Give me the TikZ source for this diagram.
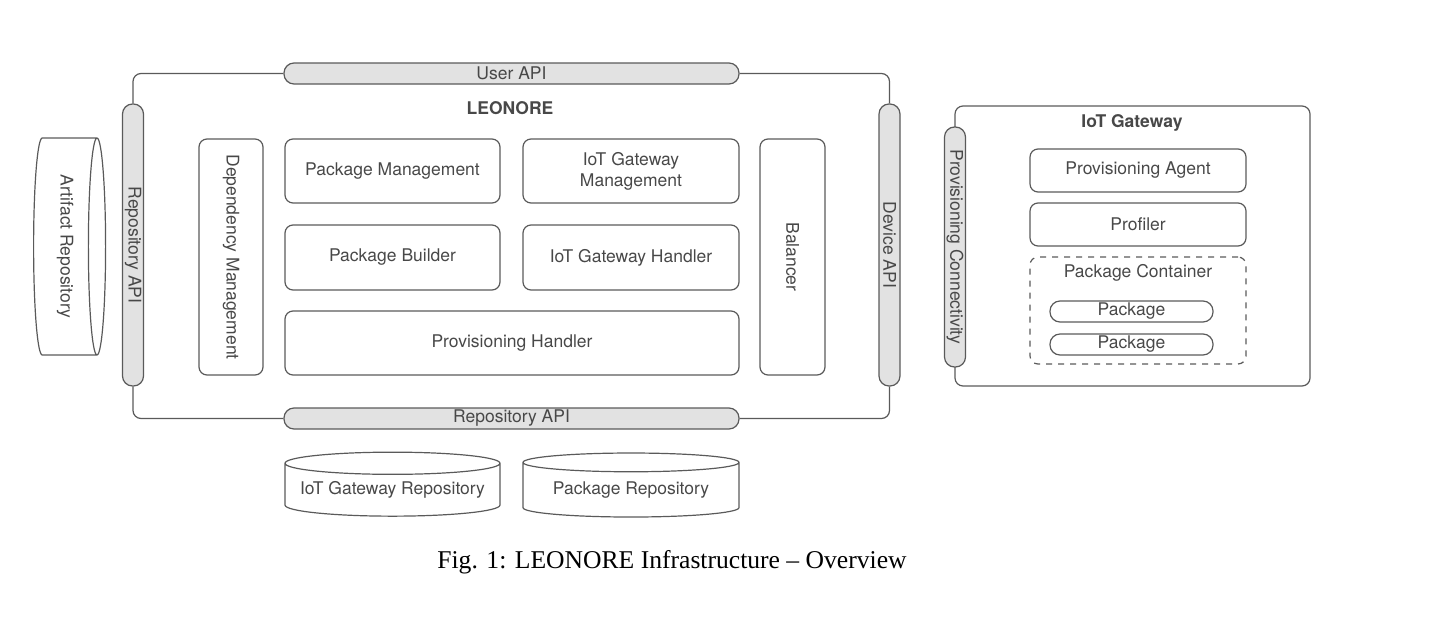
\documentclass[tikz,border=0pt]{standalone}
\usepackage{fontspec}
\setmainfont{Liberation Serif}
\newfontfamily\helv{TeX Gyre Heros}
\usepackage{tikz}
\usetikzlibrary{shapes.geometric}

\definecolor{linec}{HTML}{5A5A5A}
\definecolor{barc}{HTML}{E2E2E2}
\definecolor{txtc}{HTML}{484848}

\tikzset{
  comp/.style={draw=linec, line width=0.6pt, rounded corners=4pt, inner sep=0pt,
    text=txtc, align=center, font=\helv\fontsize{8.75}{10.5}\selectfont},
  apibar/.style={comp, fill=barc, rounded corners=5pt, minimum height=10.5pt},
  repo/.style={comp, cylinder, rounded corners=0pt},
  frame/.style={draw=linec, line width=0.6pt, rounded corners=4pt},
  heading/.style={text=txtc, font=\helv\bfseries\fontsize{8.75}{10.5}\selectfont}
}

\begin{document}
\begin{tikzpicture}[x=0.5pt, y=-0.5pt]
  \useasboundingbox (0,0) rectangle (1440,616);

  % LEONORE
  \node[apibar, minimum width=227.5pt] (userapi) at (511.5,73.5) {User API};
  \node[apibar, minimum width=227.5pt] (repoapib) at (511.5,418.5) {Repository API};
  \node[apibar, minimum width=141pt, rotate=-90] (repoapil) at (133,245) {Repository API};
  \node[apibar, minimum width=141pt, rotate=-90] (deviceapi) at (889.5,245) {Device API};
  \draw[frame] (userapi.west) -| (repoapil.west);
  \draw[frame] (userapi.east) -| (deviceapi.west);
  \draw[frame] (repoapib.west) -| (repoapil.east);
  \draw[frame] (repoapib.east) -| (deviceapi.east);
  \node[heading] (leonore) at (510,108) {LEONORE};

  \node[comp, minimum width=118pt, minimum height=32pt, rotate=-90] (depmgmt) at (231,257) {Dependency Management};
  \node[comp, minimum width=107.5pt, minimum height=32pt] (pkgmgmt) at (392.5,171) {Package Management};
  \node[comp, minimum width=108pt, minimum height=32pt] (gwmgmt) at (631,171) {IoT Gateway\\Management};
  \node[comp, minimum width=107.5pt, minimum height=32.5pt] (pkgbuilder) at (392.5,257.5) {Package Builder};
  \node[comp, minimum width=108pt, minimum height=32.5pt] (gwhandler) at (631,257.5) {IoT Gateway Handler};
  \node[comp, minimum width=227pt, minimum height=32pt] (provhandler) at (512,343) {Provisioning Handler};
  \node[comp, minimum width=118pt, minimum height=32.5pt, rotate=-90] (balancer) at (792.5,257) {Balancer};

  % repositories
  \node[repo, rotate=-90, shape border rotate=90,
        minimum width=108.5pt, minimum height=36pt, aspect=0.12] (artifact) at (65,246.5) {Artifact Repository};
  \node[repo, shape border rotate=90, minimum width=107.5pt, minimum height=32pt, aspect=0.12] (gwrepo) at (392.5,490) {IoT Gateway Repository};
  \node[repo, shape border rotate=90, minimum width=108pt, minimum height=32pt, aspect=0.12] (pkgrepo) at (631,490) {Package Repository};

  % IoT Gateway
  \node[comp, minimum width=177.5pt, minimum height=140pt] (gateway) at (1132.5,246) {};
  \node[apibar, minimum width=120pt, rotate=-90] (provconn) at (955,247) {Provisioning Connectivity};
  \node[heading] (gwtitle) at (1132,123) {IoT Gateway};
  \node[comp, minimum width=108pt, minimum height=21.5pt] (agent) at (1138,170.5) {Provisioning Agent};
  \node[comp, minimum width=108pt, minimum height=21.5pt] (profiler) at (1138,224.5) {Profiler};
  \node[comp, dashed, minimum width=108pt, minimum height=53.5pt] (container) at (1138,310.5) {};
  \node[text=txtc, font=\helv\fontsize{8.75}{10.5}\selectfont] (contlabel) at (1138,273) {Package Container};
  \node[comp, minimum width=81.5pt, minimum height=10.5pt, rounded corners=5pt] (pkga) at (1131.5,311.5) {Package};
  \node[comp, minimum width=81.5pt, minimum height=10.5pt, rounded corners=5pt] (pkgb) at (1131.5,344.5) {Package};

  \node[font=\fontsize{12.8}{15}\selectfont] (caption) at (672,562) {Fig. 1: LEONORE Infrastructure -- Overview};
\end{tikzpicture}
\end{document}
